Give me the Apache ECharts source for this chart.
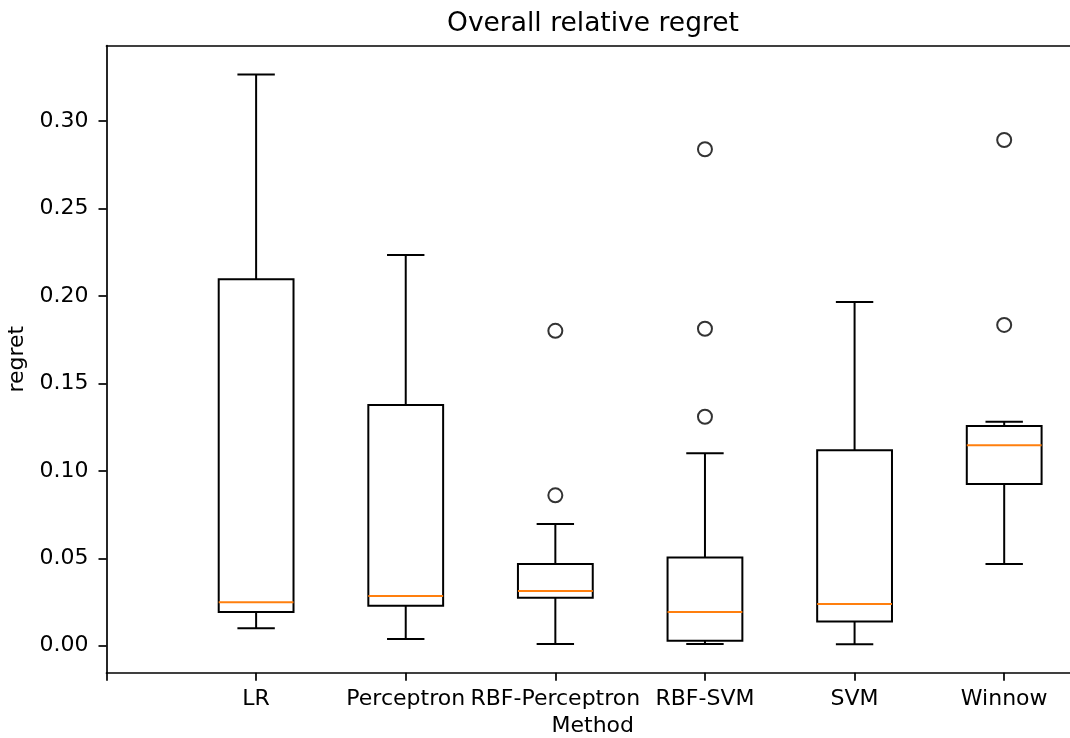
<!DOCTYPE html>
<html>
<head>
<meta charset="utf-8">
<script src="https://cdn.jsdelivr.net/npm/echarts@6/dist/echarts.min.js"></script>
<style>html,body{margin:0;padding:0;background:#fff;}#c{width:1070px;height:738px;}</style>
</head>
<body>
<div id="c"></div>
<script>
var categories = ['LR', 'Perceptron', 'RBF-Perceptron', 'RBF-SVM', 'SVM', 'Winnow'];
var whiskerLow  = [0.0100, 0.0038, 0.0010, 0.0010, 0.0008, 0.0467];
var q1          = [0.0193, 0.0229, 0.0274, 0.0029, 0.0139, 0.0925];
var median      = [0.0248, 0.0284, 0.0313, 0.0193, 0.0238, 0.1146];
var q3          = [0.2095, 0.1376, 0.0467, 0.0505, 0.1117, 0.1256];
var whiskerHigh = [0.3265, 0.2234, 0.0696, 0.1100, 0.1965, 0.1280];
var outliers = {
  'RBF-Perceptron': [0.0860, 0.1800],
  'RBF-SVM': [0.1309, 0.1812, 0.2838],
  'Winnow': [0.1834, 0.2891]
};
var yTicks = [0, 0.05, 0.10, 0.15, 0.20, 0.25, 0.30];
var xTicks = [0, 1, 2, 3, 4, 5, 6];

var boxData = categories.map(function (c, i) {
  return [i + 1, whiskerLow[i], q1[i], median[i], q3[i], whiskerHigh[i]];
});
var outlierData = [];
categories.forEach(function (c, i) {
  (outliers[c] || []).forEach(function (v) { outlierData.push([i + 1, v]); });
});

var FONT = 'DejaVu Sans';
var LW = 2;

function renderBox(params, api) {
  var x = api.value(0);
  var lo = api.value(1), a = api.value(2), m = api.value(3), b = api.value(4), hi = api.value(5);
  var hw = 0.25, cw = 0.125;
  var pL = api.coord([x - hw, b]), pR = api.coord([x + hw, a]);
  var c = api.coord([x, 0])[0];
  var cL = api.coord([x - cw, 0])[0], cR = api.coord([x + cw, 0])[0];
  var yLo = api.coord([x, lo])[1], yA = api.coord([x, a])[1], yM = api.coord([x, m])[1];
  var yB = api.coord([x, b])[1], yHi = api.coord([x, hi])[1];
  var st = { stroke: '#000', lineWidth: LW, fill: null };
  return {
    type: 'group',
    children: [
      { type: 'line', shape: { x1: c, y1: yA, x2: c, y2: yLo }, style: st },
      { type: 'line', shape: { x1: c, y1: yB, x2: c, y2: yHi }, style: st },
      { type: 'line', shape: { x1: cL, y1: yLo, x2: cR, y2: yLo }, style: st },
      { type: 'line', shape: { x1: cL, y1: yHi, x2: cR, y2: yHi }, style: st },
      { type: 'rect', shape: { x: pL[0], y: yB, width: pR[0] - pL[0], height: yA - yB }, style: { stroke: '#000', lineWidth: LW, fill: '#fff' } },
      { type: 'line', shape: { x1: pL[0], y1: yM, x2: pR[0], y2: yM }, style: { stroke: '#ff7f0e', lineWidth: LW } }
    ]
  };
}

var chart = echarts.init(document.getElementById('c'), null, { renderer: 'canvas' });
chart.setOption({
  backgroundColor: '#fff',
  animation: false,
  title: {
    text: 'Overall relative regret',
    left: 588, top: 6, textAlign: 'center',
    textStyle: { fontFamily: FONT, fontSize: 26.5, fontWeight: 'normal', color: '#000' }
  },
  grid: {
    left: 106.5, top: 45.7, width: 972.5, height: 627,
    outerBoundsMode: 'none', containLabel: false,
    show: false
  },
  xAxis: [{
    type: 'value', min: 0, max: 6.5,
    name: 'Method', nameLocation: 'middle', nameGap: 43,
    nameTextStyle: { fontFamily: FONT, fontSize: 22, color: '#000' },
    splitLine: { show: false },
    axisLine: { show: true, onZero: false, lineStyle: { color: '#000', width: 1.7 } },
    axisTick: { show: true, customValues: xTicks, length: 8, lineStyle: { color: '#000', width: 1.7 } },
    axisLabel: {
      customValues: xTicks, margin: 16,
      fontFamily: FONT, fontSize: 22, color: '#000',
      formatter: function (v) { return v >= 1 && v <= categories.length ? categories[Math.round(v) - 1] : ''; }
    }
  }, {
    type: 'value', min: 0, max: 6.5, position: 'top',
    splitLine: { show: false },
    axisLine: { show: true, onZero: false, lineStyle: { color: '#000', width: 1.7 } },
    axisTick: { show: false }, axisLabel: { show: false }
  }],
  yAxis: {
    type: 'value', min: -0.0154, max: 0.343,
    name: 'regret', nameLocation: 'middle', nameGap: 69, nameRotate: 90,
    nameTextStyle: { fontFamily: FONT, fontSize: 22, color: '#000' },
    splitLine: { show: false },
    axisLine: { show: true, onZero: false, lineStyle: { color: '#000', width: 1.7 } },
    axisTick: { show: true, customValues: yTicks, length: 8, lineStyle: { color: '#000', width: 1.7 } },
    axisLabel: {
      customValues: yTicks, margin: 18,
      fontFamily: FONT, fontSize: 22, color: '#000',
      formatter: function (v) { return v.toFixed(2); }
    }
  },
  series: [
    {
      type: 'custom', renderItem: renderBox, data: boxData,
      encode: { x: 0, y: [1, 2, 3, 4, 5] }, clip: false, silent: true
    },
    {
      type: 'scatter', data: outlierData, symbol: 'circle', symbolSize: 14,
      itemStyle: { color: 'transparent', borderColor: '#000', borderWidth: 2 },
      silent: true
    }
  ]
});
</script>
</body>
</html>
